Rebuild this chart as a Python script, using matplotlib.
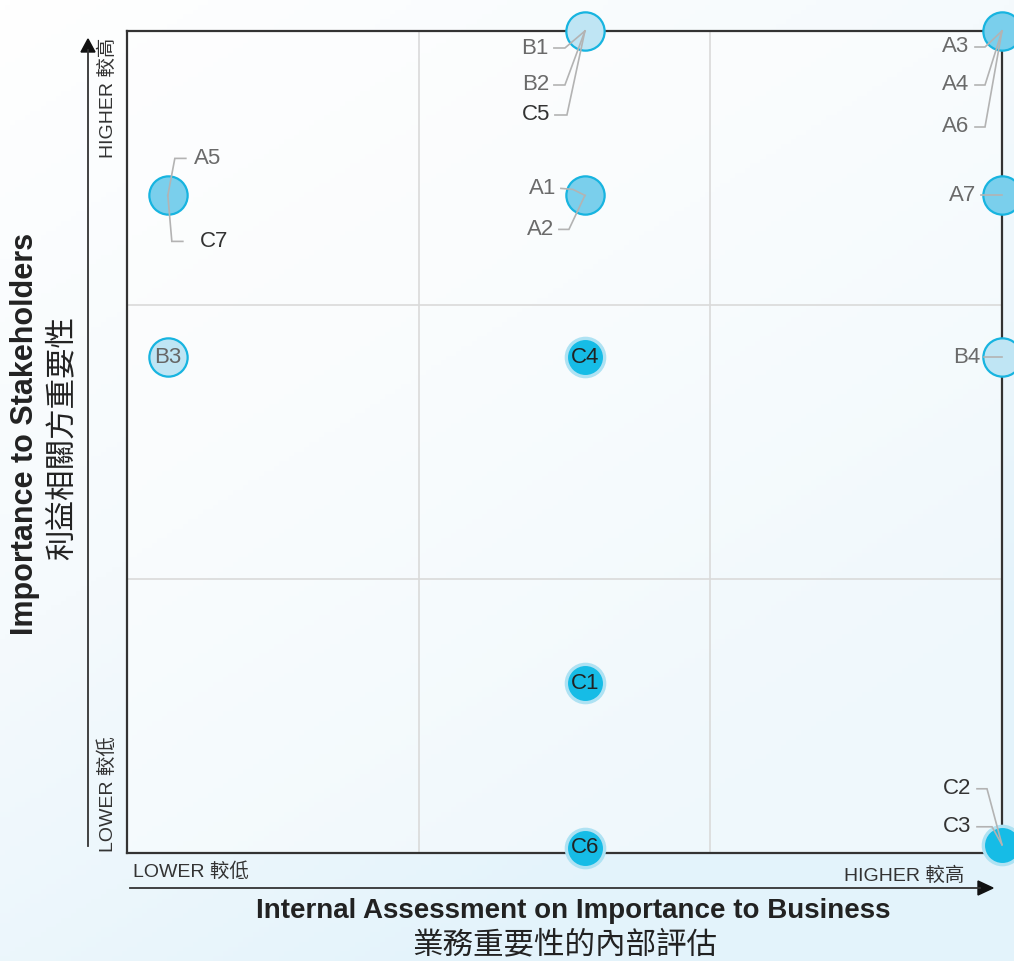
import numpy as np
import matplotlib
matplotlib.use("Agg")
import matplotlib.pyplot as plt
from matplotlib.colors import LinearSegmentedColormap

plt.rcParams['font.family'] = ['Liberation Sans', 'Noto Sans CJK TC', 'DejaVu Sans']

# ---------------- data ----------------
# bubble positions on a 0-3 scale (business importance, stakeholder importance)
bubble_x = [1.57, 1.57, 3.0, 3.0, 3.0, 0.14, 0.14, 1.57, 1.57, 1.57, 3.0]
bubble_y = [3.0, 2.4, 3.0, 2.4, 1.81, 2.4, 1.81, 1.81, 0.62, 0.02, 0.03]
bubble_kind = ["light", "mid", "mid", "mid", "light", "mid", "light", "dark", "dark", "dark", "dark"]
inner_labels = ["", "", "", "", "", "", "B3", "C4", "C1", "C6", ""]
callout_labels = [["B1", "B2", "C5"], ["A1", "A2"], ["A3", "A4", "A6"], ["A7"], ["B4"],
                  ["A5", "C7"], [], [], [], [], ["C2", "C3"]]

x_title_en = "Internal Assessment on Importance to Business"
x_title_zh = "業務重要性的內部評估"
y_title_en = "Importance to Stakeholders"
y_title_zh = "利益相關方重要性"
low_label = "LOWER 較低"
high_label = "HIGHER 較高"

# ---------------- layout (pixel offsets of callouts: text anchor, elbow points) ----------------
callout_layout = {
    "B1": ((-36, 17), [(-31, 17), (-20, 17)], "right"),
    "B2": ((-36, 54), [(-31, 54), (-20, 54)], "right"),
    "C5": ((-35, 84), [(-30, 84), (-18, 84)], "right"),
    "A1": ((-29, -7), [(-24, -7), (-12, -6)], "right"),
    "A2": ((-31, 34), [(-26, 34), (-16, 34)], "right"),
    "A3": ((-33, 16), [(-27, 16), (-17, 16)], "right"),
    "A4": ((-33, 54), [(-27, 54), (-17, 54)], "right"),
    "A6": ((-33, 96), [(-27, 96), (-17, 96)], "right"),
    "A7": ((-26, 0), [(-21, 0)], "right"),
    "B4": ((-22, 0), [(-18, 0)], "right"),
    "A5": ((26, -37), [(18, -37), (7, -37)], "left"),
    "C7": ((32, 46), [(15, 46), (4, 46)], "left"),
    "C2": ((-31, -56), [(-25, -56), (-15, -56)], "right"),
    "C3": ((-31, -18), [(-25, -18), (-10, -18)], "right"),
}

W, H = 1014, 961
fig = plt.figure(figsize=(W / 100, H / 100), dpi=100)

# background gradient
bg = fig.add_axes([0, 0, 1, 1], zorder=-10)
yy, xx = np.mgrid[0:1:200j, 0:1:200j]
t = np.clip((xx * 0.6 + yy * 0.9) / 1.2, 0, 1)
cmap = LinearSegmentedColormap.from_list("bg", ["#ffffff", "#f5fafd", "#e3f3fb"])
bg.imshow(t, cmap=cmap, extent=[0, 1, 0, 1], origin="upper", aspect="auto")
bg.axis("off")

ax_left, ax_right, ax_top, ax_bottom = 127, 1002, 31, 853
ax = fig.add_axes([ax_left / W, 1 - ax_bottom / H, (ax_right - ax_left) / W, (ax_bottom - ax_top) / H])
ax.set_facecolor((1, 1, 1, 0.45))
ax.set_xlim(0, 3)
ax.set_ylim(0, 3)
sx = 3 / (ax_right - ax_left)
sy = 3 / (ax_bottom - ax_top)

for v in [1, 2]:
    ax.axvline(v, color="#dadada", lw=1.2, zorder=1)
    ax.axhline(v, color="#dadada", lw=1.2, zorder=1)
for s in ax.spines.values():
    s.set_color("#333333")
    s.set_linewidth(1.6)
ax.set_xticks([])
ax.set_yticks([])

styles = {
    "light": dict(fc="#bfe5f4", ec="#17b4e0", lw=1.6),
    "mid": dict(fc="#7acfec", ec="#17b4e0", lw=1.6),
    "dark": dict(fc="#16bce6", ec="#aee2f3", lw=2.4),
}
for x, y, k, lab in zip(bubble_x, bubble_y, bubble_kind, inner_labels):
    st = styles[k]
    ax.scatter([x], [y], s=760, facecolor=st["fc"], edgecolor=st["ec"], linewidth=st["lw"],
               zorder=5, clip_on=False)
    if lab:
        ax.text(x, y, lab, ha="center", va="center", fontsize=16,
                color="#666666" if k == "light" else "#222222", zorder=7, clip_on=False)

for x, y, labs in zip(bubble_x, bubble_y, callout_labels):
    for lab in labs:
        (tx, ty), elbow, ha = callout_layout[lab]
        pts = elbow + [(0, 0)]
        lx = [x + p[0] * sx for p in pts]
        ly = [y - p[1] * sy for p in pts]
        ax.plot(lx, ly, color="#b3b3b3", lw=1.2, zorder=6, clip_on=False,
                solid_joinstyle="miter")
        col = "#333333" if lab.startswith("C") else "#6a6a6a"
        ax.text(x + tx * sx, y - ty * sy, lab, ha=ha, va="center", fontsize=16,
                color=col, zorder=7, clip_on=False)

# axis arrows (figure pixel coordinates)
def fx(px):
    return px / W

def fy(py):
    return 1 - py / H

fig.add_artist(plt.Line2D([fx(88), fx(88)], [fy(846), fy(50)], color="#333333", lw=1.3))
fig.add_artist(plt.Polygon([[fx(81), fy(52)], [fx(95), fy(52)], [fx(88), fy(39)]],
                           closed=True, color="#111111"))
fig.add_artist(plt.Line2D([fx(130), fx(980)], [fy(888), fy(888)], color="#333333", lw=1.3))
fig.add_artist(plt.Polygon([[fx(978), fy(881)], [fx(978), fy(895)], [fx(993), fy(888)]],
                           closed=True, color="#111111"))

fig.text(fx(108), fy(38), high_label, rotation=90, ha="center", va="top", fontsize=14, color="#333333")
fig.text(fx(108), fy(852), low_label, rotation=90, ha="center", va="bottom", fontsize=14, color="#333333")
fig.text(fx(133), fy(872), low_label, ha="left", va="center", fontsize=14, color="#333333")
fig.text(fx(964), fy(876), high_label, ha="right", va="center", fontsize=14, color="#333333")

fig.text(fx(573), fy(911), x_title_en, ha="center", va="center", fontsize=20, fontweight="bold", color="#222222")
fig.text(fx(565), fy(945), x_title_zh, ha="center", va="center", fontsize=22, color="#222222")
fig.text(fx(25), fy(434), y_title_en, rotation=90, ha="center", va="center", fontsize=22, fontweight="bold", color="#222222")
fig.text(fx(63), fy(438), y_title_zh, rotation=90, ha="center", va="center", fontsize=22, color="#222222")

fig.savefig("out.png", dpi=100)
